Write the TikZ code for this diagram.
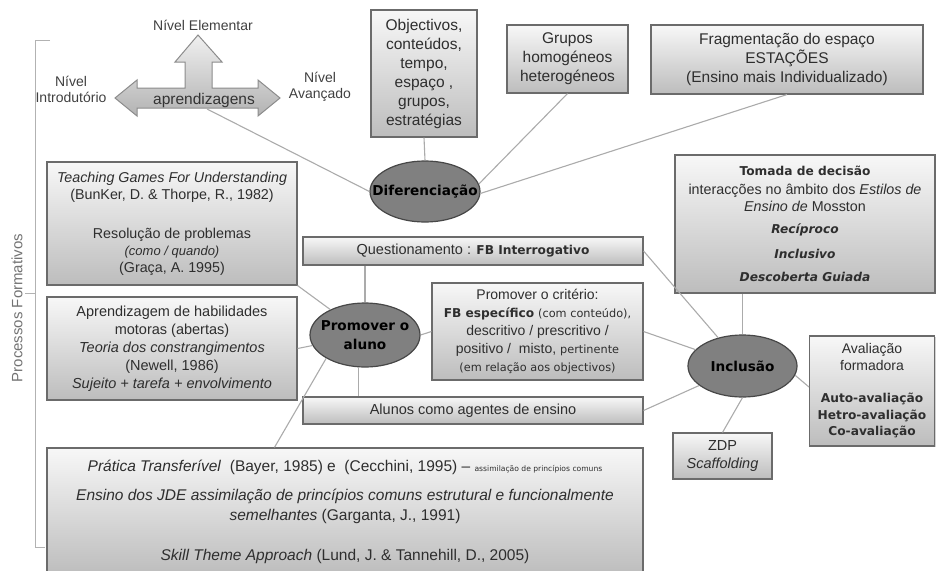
\documentclass[tikz,border=0pt]{standalone}
\usepackage{fontspec}
\setmainfont{Liberation Sans}
\newfontfamily\dvfam{DejaVu Sans}
\usetikzlibrary{shapes.geometric,shadows}
\newcommand{\fsz}[2]{\fontsize{#1}{#2}\selectfont}
\newcommand{\mybold}[1]{{\dvfam\bfseries\fontsize{12.2}{17}\selectfont #1}}
\newcommand{\mybi}[1]{{\dvfam\bfseries\itshape\fontsize{12.2}{17}\selectfont #1}}
\newcommand{\mysmall}[1]{{\dvfam\fontsize{11.3}{14}\selectfont #1}}
\newcommand{\mytiny}[1]{{\dvfam\fontsize{7.6}{10}\selectfont #1}}
\begin{document}
\begin{tikzpicture}[x=1pt,y=-1pt,
  box/.style={draw=black!58, line width=1.1pt, top color=black!3, bottom color=black!26,
    align=center, inner sep=0pt, text=black!82,
    drop shadow={shadow xshift=1.3pt,shadow yshift=-1.3pt,opacity=0.35}},
  ell/.style={ellipse, draw=black!72, line width=1.2pt, fill=black!50, inner sep=0pt},
  etxt/.style={font=\dvfam\bfseries\fsz{13.6}{19}, align=center, text=black},
  conn/.style={draw=black!33, line width=1.1pt},
  lbl/.style={font=\fsz{14}{16}, align=center, text=black!75, inner sep=0pt},
  brk/.style={draw=black!30, line width=1pt}
]
\useasboundingbox (0,0) rectangle (936,570);

% bracket
\coordinate (bt1) at (50,40);
\coordinate (bt2) at (35,40);
\coordinate (bb2) at (35,547);
\coordinate (bb1) at (45,547);
\coordinate (bm1) at (35,293);
\coordinate (bm2) at (25,293);
\draw[brk] (bt1) -- (bt2) -- (bb2) -- (bb1);
\draw[brk] (bm1) -- (bm2);
\node[rotate=90, text=black!55, font=\fsz{15}{18}, inner sep=0pt] (pf) at (17,308) {Processos Formativos};

% aprendizagens arrow
\path[draw=black!45, line width=1pt, top color=black!6, bottom color=black!30]
  (115,98) -- (137,80) -- (137,88) -- (185,88) -- (185,62) -- (175,62) -- (198,35)
  -- (222,62) -- (212,62) -- (212,88) -- (258,88) -- (258,80) -- (280,98)
  -- (258,116) -- (258,108) -- (137,108) -- (137,116) -- cycle;
\node[font=\fsz{15.5}{17}, text=black!80, inner sep=0pt] (apr) at (204,100) {aprendizagens};
\coordinate (aprb) at (207,109);
\node[lbl] (nelem) at (203,25) {Nível Elementar};
\node[lbl] (nintro) at (71,89) {Nível\\Introdutório};
\node[lbl] (navan) at (320,87) {Nível\\Avançado};

% top boxes
\node[box, minimum width=106, minimum height=127, font=\fsz{15.5}{19}] (obj) at (424,73.5)
  {Objectivos,\\conteúdos,\\tempo,\\espaço ,\\grupos,\\estratégias};
\node[box, minimum width=121, minimum height=68, font=\fsz{15.5}{19}] (grp) at (567.5,59)
  {Grupos\\homogéneos\\heterogéneos};
\node[box, minimum width=272, minimum height=69, font=\fsz{15.5}{19}] (frag) at (787,59.5)
  {Fragmentação do espaço\\ESTAÇÕES\\(Ensino mais Individualizado)};

% left boxes
\node[box, minimum width=250, minimum height=123, font=\fsz{14.3}{17}] (tg) at (172,223.5)
  {\textit{Teaching Games For Understanding}\\(BunKer, D. \& Thorpe, R., 1982)\\[22pt]
   Resolução de problemas\\{\fsz{13}{17}\textit{(como / quando)}}\\(Graça, A. 1995)};
\node[box, minimum width=250, minimum height=103, font=\fsz{14.5}{18}] (ap) at (172,348.5)
  {Aprendizagem de habilidades\\motoras (abertas)\\\textit{Teoria dos constrangimentos}\\(Newell, 1986)\\\textit{Sujeito + tarefa + envolvimento}};

% middle boxes
\node[box, minimum width=340, minimum height=28, font=\fsz{14.5}{17}] (qst) at (473,251)
  {Questionamento : \mybold{FB Interrogativo}};
\node[box, minimum width=211, minimum height=97, font=\fsz{14}{18}] (crit) at (537.5,331.5)
  {Promover o critério:\\\mybold{FB específico} \mysmall{(com conteúdo),}\\descritivo / prescritivo /\\positivo /\ \ misto, \mysmall{pertinente}\\\mysmall{(em relação aos objectivos)}};
\node[box, minimum width=340, minimum height=27, font=\fsz{14.5}{17}] (alu) at (473,410.5)
  {Alunos como agentes de ensino};

% bottom box
\node[box, minimum width=596, minimum height=127, font=\fsz{15.5}{20}] (bot) at (345,511.5)
  {\textit{Prática Transferível}\ \ (Bayer, 1985) e\ \ (Cecchini, 1995) – \mytiny{assimilação de princípios comuns}\\[9pt]
   \textit{Ensino dos JDE assimilação de princípios comuns estrutural e funcionalmente}\\
   \textit{semelhantes} (Garganta, J., 1991)\\[20pt]
   \textit{Skill Theme Approach} (Lund, J. \& Tannehill, D., 2005)};

% right boxes
\node[box, minimum width=260, minimum height=138, font=\fsz{14.3}{17}] (tom) at (805,224)
  {\mybold{Tomada de decisão}\\[2pt]interacções no âmbito dos \textit{Estilos de}\\\textit{Ensino de} Mosston\\[5pt]
   \mybi{Recíproco}\\[8pt]\mybi{Inclusivo}\\[6pt]\mybi{Descoberta Guiada}};
\node[box, minimum width=125, minimum height=110, font=\fsz{14}{16.5}] (ava) at (872,391)
  {Avaliação\\formadora\\[16pt]\mybold{Auto-avaliação}\\\mybold{Hetro-avaliação}\\\mybold{Co-avaliação}};
\node[box, minimum width=99, minimum height=46, font=\fsz{14.5}{18}] (zdp) at (722.5,456)
  {ZDP\\\textit{Scaffolding}};

% ellipses
\node[ell, minimum width=110, minimum height=61] (dif) at (425,191.5) {};
\node[etxt] (difT) at (dif) {Diferenciação};
\node[ell, minimum width=110, minimum height=64] (prm) at (365,335) {};
\node[etxt] (prmT) at (prm) {Promover o\\aluno};
\node[ell, minimum width=109, minimum height=62] (inc) at (742.5,366) {};
\node[etxt] (incT) at (inc) {Inclusão};

% connectors
\draw[conn] (aprb) -- (dif.west);
\draw[conn] (obj.south) -- (dif.north);
\draw[conn] (grp.south) -- (dif.8);
\draw[conn] (frag.south) -- (dif.-2);
\draw[conn] (prm.north) -- (prm.north |- qst.south);
\draw[conn] (prm.258) -- (prm.258 |- alu.north);
\draw[conn] (prm.east) -- (crit.west);
\draw[conn] (tg.south east) -- (prm);
\draw[conn] (ap.east) -- (prm);
\draw[conn] (prm.211) -- ([xshift=228pt]bot.north west);
\draw[conn] (inc.north) -- (inc.north |- tom.south);
\draw[conn] (inc.-10) -- ([yshift=4pt]ava.west);
\draw[conn] (inc.south) -- (zdp.north);
\draw[conn] (qst.east) -- (inc);
\draw[conn] (crit.east) -- (inc);
\draw[conn] (alu.east) -- (inc);
\end{tikzpicture}
\end{document}
